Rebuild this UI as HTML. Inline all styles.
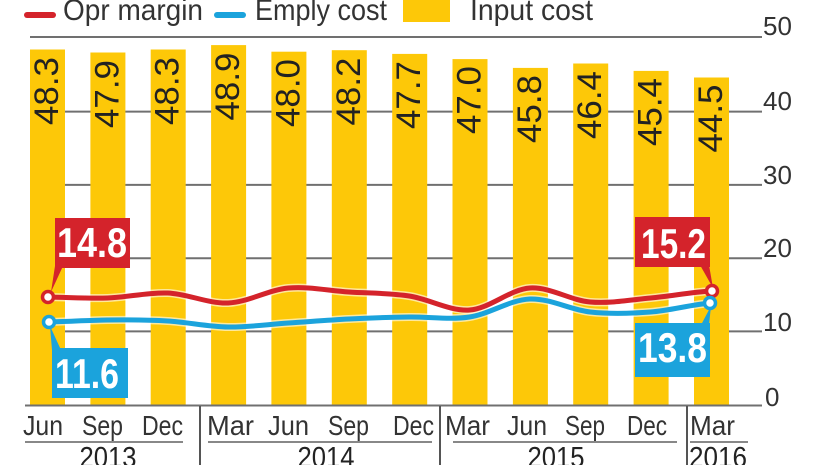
<!DOCTYPE html>
<html>
<head>
<meta charset="utf-8">
<style>
html,body{margin:0;padding:0;background:#fff;}
svg{display:block;}
text{font-family:"Liberation Sans",sans-serif;}
</style>
</head>
<body>
<svg width="826" height="465" viewBox="0 0 826 465" xmlns="http://www.w3.org/2000/svg">
<rect width="826" height="465" fill="#fff"/>

<!-- Legend -->
<line x1="27" y1="15" x2="53" y2="15" stroke="#D4232B" stroke-width="6" stroke-linecap="round"/>
<text x="63" y="20" font-size="30" fill="#333" textLength="140" lengthAdjust="spacingAndGlyphs">Opr margin</text>
<line x1="217" y1="15" x2="243" y2="15" stroke="#1BA3DC" stroke-width="6" stroke-linecap="round"/>
<text x="255" y="20" font-size="30" fill="#333" textLength="132" lengthAdjust="spacingAndGlyphs">Emply cost</text>
<rect x="403" y="0" width="47" height="22" fill="#FDC808"/>
<text x="470" y="20" font-size="30" fill="#333" textLength="123" lengthAdjust="spacingAndGlyphs">Input cost</text>

<!-- Gridlines -->
<g stroke="#707070" stroke-width="2">
<line x1="30" y1="37" x2="762" y2="37"/>
<line x1="30" y1="111.6" x2="762" y2="111.6"/>
<line x1="30" y1="184.9" x2="762" y2="184.9"/>
<line x1="30" y1="258.2" x2="762" y2="258.2"/>
<line x1="30" y1="331.4" x2="762" y2="331.4"/>
</g>

<!-- Y labels -->
<g font-size="26" fill="#333">
<text x="763" y="35">50</text>
<text x="763" y="110">40</text>
<text x="763" y="184">30</text>
<text x="763" y="257">20</text>
<text x="763" y="331">10</text>
<text x="765" y="406">0</text>
</g>

<!-- Bars -->
<g fill="#FDC808">
<rect x="30" y="49.5" width="35" height="355.5"/>
<rect x="90.4" y="52.5" width="35" height="352.5"/>
<rect x="150.7" y="49.5" width="35" height="355.5"/>
<rect x="211.1" y="45.1" width="35" height="359.9"/>
<rect x="271.4" y="51.7" width="35" height="353.3"/>
<rect x="331.8" y="50.2" width="35" height="354.8"/>
<rect x="392.2" y="53.9" width="35" height="351.1"/>
<rect x="452.5" y="59.1" width="35" height="345.9"/>
<rect x="512.9" y="67.9" width="35" height="337.1"/>
<rect x="573.2" y="63.5" width="35" height="341.5"/>
<rect x="633.6" y="70.9" width="35" height="334.1"/>
<rect x="694" y="77.5" width="35" height="327.5"/>
</g>

<!-- Bar labels -->
<g font-size="34" fill="#222" text-anchor="end">
<text transform="translate(58,57) rotate(-90)" textLength="68" lengthAdjust="spacingAndGlyphs">48.3</text>
<text transform="translate(118.4,60) rotate(-90)" textLength="68" lengthAdjust="spacingAndGlyphs">47.9</text>
<text transform="translate(178.7,57) rotate(-90)" textLength="68" lengthAdjust="spacingAndGlyphs">48.3</text>
<text transform="translate(239.1,52.5) rotate(-90)" textLength="68" lengthAdjust="spacingAndGlyphs">48.9</text>
<text transform="translate(299.4,59) rotate(-90)" textLength="68" lengthAdjust="spacingAndGlyphs">48.0</text>
<text transform="translate(359.8,57.5) rotate(-90)" textLength="68" lengthAdjust="spacingAndGlyphs">48.2</text>
<text transform="translate(420.2,61) rotate(-90)" textLength="68" lengthAdjust="spacingAndGlyphs">47.7</text>
<text transform="translate(480.5,66) rotate(-90)" textLength="68" lengthAdjust="spacingAndGlyphs">47.0</text>
<text transform="translate(540.9,75) rotate(-90)" textLength="68" lengthAdjust="spacingAndGlyphs">45.8</text>
<text transform="translate(601.2,71) rotate(-90)" textLength="68" lengthAdjust="spacingAndGlyphs">46.4</text>
<text transform="translate(661.6,78) rotate(-90)" textLength="68" lengthAdjust="spacingAndGlyphs">45.4</text>
<text transform="translate(722,84.5) rotate(-90)" textLength="68" lengthAdjust="spacingAndGlyphs">44.5</text>
</g>

<!-- X axis -->
<line x1="25" y1="405.5" x2="762" y2="405.5" stroke="#707070" stroke-width="2"/>
<g stroke="#555" stroke-width="2">
<line x1="200" y1="406" x2="200" y2="465"/>
<line x1="440" y1="406" x2="440" y2="465"/>
<line x1="687" y1="406" x2="687" y2="465"/>
</g>
<g stroke="#888" stroke-width="2">
<line x1="25" y1="442" x2="183" y2="442"/>
<line x1="208" y1="442" x2="432" y2="442"/>
<line x1="453" y1="442" x2="677" y2="442"/>
<line x1="690" y1="442" x2="748" y2="442"/>
</g>
<g font-size="28" fill="#333" lengthAdjust="spacingAndGlyphs">
<text x="23" y="435" textLength="40" lengthAdjust="spacingAndGlyphs">Jun</text>
<text x="82" y="435" textLength="41" lengthAdjust="spacingAndGlyphs">Sep</text>
<text x="142" y="435" textLength="41" lengthAdjust="spacingAndGlyphs">Dec</text>
<text x="207" y="435" textLength="47" lengthAdjust="spacingAndGlyphs">Mar</text>
<text x="268" y="435" textLength="41" lengthAdjust="spacingAndGlyphs">Jun</text>
<text x="328" y="435" textLength="41" lengthAdjust="spacingAndGlyphs">Sep</text>
<text x="393" y="435" textLength="41" lengthAdjust="spacingAndGlyphs">Dec</text>
<text x="445" y="435" textLength="45" lengthAdjust="spacingAndGlyphs">Mar</text>
<text x="507" y="435" textLength="40" lengthAdjust="spacingAndGlyphs">Jun</text>
<text x="565" y="435" textLength="40" lengthAdjust="spacingAndGlyphs">Sep</text>
<text x="627" y="435" textLength="40" lengthAdjust="spacingAndGlyphs">Dec</text>
<text x="690" y="435" textLength="45" lengthAdjust="spacingAndGlyphs">Mar</text>
</g>
<g font-size="29" fill="#222" text-anchor="middle">
<text x="108" y="467" textLength="57" lengthAdjust="spacingAndGlyphs">2013</text>
<text x="326" y="467" textLength="57" lengthAdjust="spacingAndGlyphs">2014</text>
<text x="556" y="467" textLength="57" lengthAdjust="spacingAndGlyphs">2015</text>
<text x="718" y="467" textLength="58" lengthAdjust="spacingAndGlyphs">2016</text>
</g>

<!-- Lines -->
<path d="M47,297 C67,297.2 87.4,298.7 107.4,298 C127.5,297.3 147.7,292.2 167.7,293 C187.8,293.8 208.1,303.8 228.1,303 C248.2,302.2 268.4,289.8 288.4,288 C308.5,286.2 328.8,290.7 348.8,292 C368.9,293.3 389.2,293 409.2,296 C429.3,299 449.5,311.3 469.5,310 C489.6,308.7 509.9,289.3 529.9,288 C550,286.7 570.2,300.3 590.2,302 C610.3,303.7 630.6,299.8 650.6,298 C670.7,296.2 691,292.2 711,291" fill="none" stroke="#fff" stroke-width="8" stroke-opacity="0.6"/>
<path d="M47,322 C67,321.7 87.4,320.2 107.4,320 C127.5,319.8 147.7,319.8 167.7,321 C187.8,322.2 208.1,326.7 228.1,327 C248.2,327.3 268.4,324.3 288.4,323 C308.5,321.7 328.8,320 348.8,319 C368.9,318 389.2,317.3 409.2,317 C429.3,316.7 449.5,320 469.5,317 C489.6,314 509.9,299.8 529.9,299 C550,298.2 570.2,309.8 590.2,312 C610.3,314.2 630.6,313.5 650.6,312 C670.7,310.5 691,304.5 711,303" fill="none" stroke="#fff" stroke-width="8" stroke-opacity="0.6"/>
<path d="M47,297 C67,297.2 87.4,298.7 107.4,298 C127.5,297.3 147.7,292.2 167.7,293 C187.8,293.8 208.1,303.8 228.1,303 C248.2,302.2 268.4,289.8 288.4,288 C308.5,286.2 328.8,290.7 348.8,292 C368.9,293.3 389.2,293 409.2,296 C429.3,299 449.5,311.3 469.5,310 C489.6,308.7 509.9,289.3 529.9,288 C550,286.7 570.2,300.3 590.2,302 C610.3,303.7 630.6,299.8 650.6,298 C670.7,296.2 691,292.2 711,291" fill="none" stroke="#D4232B" stroke-width="5" stroke-linecap="round"/>
<path d="M47,322 C67,321.7 87.4,320.2 107.4,320 C127.5,319.8 147.7,319.8 167.7,321 C187.8,322.2 208.1,326.7 228.1,327 C248.2,327.3 268.4,324.3 288.4,323 C308.5,321.7 328.8,320 348.8,319 C368.9,318 389.2,317.3 409.2,317 C429.3,316.7 449.5,320 469.5,317 C489.6,314 509.9,299.8 529.9,299 C550,298.2 570.2,309.8 590.2,312 C610.3,314.2 630.6,313.5 650.6,312 C670.7,310.5 691,304.5 711,303" fill="none" stroke="#1BA3DC" stroke-width="5" stroke-linecap="round"/>

<!-- Callout pointers -->
<polygon points="55,266 63,266 51,292" fill="#D4232B"/>
<polygon points="700,265 709,265 713,288" fill="#D4232B"/>
<polygon points="52,350 61,350 50,326" fill="#1BA3DC"/>
<polygon points="701,325 709,325 711,306" fill="#1BA3DC"/>

<!-- Markers -->
<circle cx="48" cy="297" r="5.5" fill="#fff" stroke="#D4232B" stroke-width="3.5"/>
<circle cx="49" cy="322" r="5.5" fill="#fff" stroke="#1BA3DC" stroke-width="3.5"/>
<circle cx="712" cy="291" r="5.5" fill="#fff" stroke="#D4232B" stroke-width="3.5"/>
<circle cx="710" cy="303" r="5.5" fill="#fff" stroke="#1BA3DC" stroke-width="3.5"/>

<!-- Callout boxes -->
<rect x="55" y="218" width="75" height="50" fill="#D4232B"/>
<text x="57" y="257" font-size="42" font-weight="bold" fill="#fff" textLength="70" lengthAdjust="spacingAndGlyphs">14.8</text>
<rect x="635" y="217" width="75" height="50" fill="#D4232B"/>
<text x="641" y="258" font-size="42" font-weight="bold" fill="#fff" textLength="65" lengthAdjust="spacingAndGlyphs">15.2</text>
<rect x="52" y="348" width="76" height="50" fill="#1BA3DC"/>
<text x="55" y="388" font-size="42" font-weight="bold" fill="#fff" textLength="64" lengthAdjust="spacingAndGlyphs">11.6</text>
<rect x="635" y="323" width="75" height="54" fill="#1BA3DC"/>
<text x="638" y="362" font-size="42" font-weight="bold" fill="#fff" textLength="69" lengthAdjust="spacingAndGlyphs">13.8</text>
</svg>
</body>
</html>
